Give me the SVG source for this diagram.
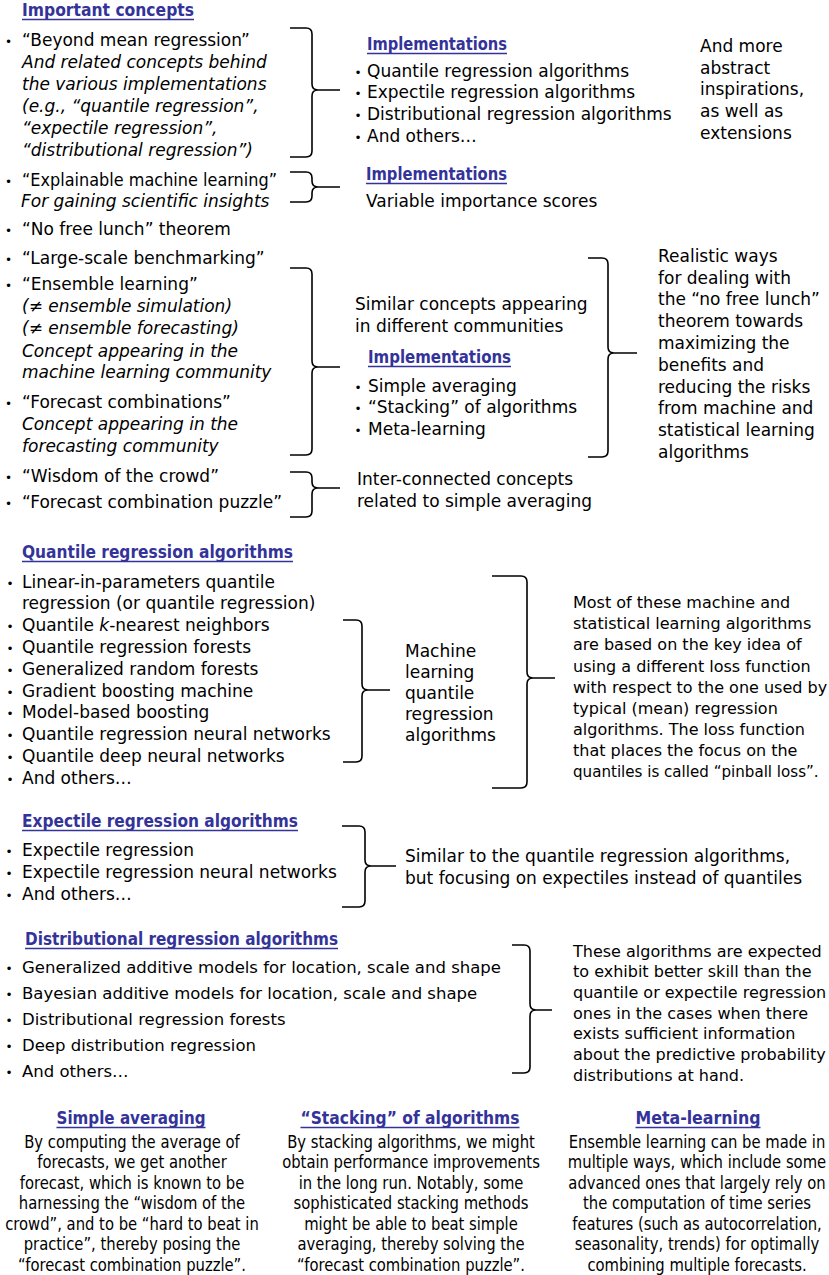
<svg xmlns="http://www.w3.org/2000/svg" width="829" height="1275" viewBox="0 0 829 1275">
<style>
text{font-family:"DejaVu Sans","Liberation Sans",sans-serif;font-size:17px;fill:#000}
.i{font-style:italic}
.b{font-size:12px}
.s16{font-size:16px}
.s15{font-size:15.1px}
.s165{font-size:16.5px}
.h{font-weight:bold;fill:#333399}
.u{stroke:#333399;stroke-width:1.3}
.br{fill:none;stroke:#000;stroke-width:1.6;stroke-linejoin:round}
.m{text-anchor:middle}
</style>
<rect width="829" height="1275" fill="#fff"/>

<g id="connectors">
<path class="br" d="M290,28 H306 Q312,28 312,34 V84 Q312,90 318,90 Q312,90 312,96 V151 Q312,157 306,157 H290 M318,90 H340"/>
<path class="br" d="M290,172 H306 Q312,172 312,178 V181 Q312,187 318,187 Q312,187 312,193 V196 Q312,202 306,202 H290 M318,187 H340"/>
<path class="br" d="M290,268 H306 Q312,268 312,274 V361 Q312,367 318,367 Q312,367 312,373 V449 Q312,455 306,455 H290 M318,367 H340"/>
<path class="br" d="M290,472 H306 Q312,472 312,478 V482 Q312,488 318,488 Q312,488 312,494 V511 Q312,517 306,517 H290 M318,488 H340"/>
<path class="br" d="M588,258 H602 Q608,258 608,264 V347 Q608,353 614,353 Q608,353 608,359 V451 Q608,457 602,457 H588 M614,353 H637"/>
<path class="br" d="M343,620 H356 Q362,620 362,626 V684 Q362,690 368,690 Q362,690 362,696 V756 Q362,762 356,762 H343 M368,690 H390"/>
<path class="br" d="M492,576 H521 Q527,576 527,582 V672 Q527,678 533,678 Q527,678 527,684 V782 Q527,788 521,788 H492 M533,678 H555"/>
<path class="br" d="M342,826 H359 Q365,826 365,832 V860 Q365,866 371,866 Q365,866 365,872 V901 Q365,907 359,907 H342 M371,866 H396"/>
<path class="br" d="M512,945 H524 Q530,945 530,951 V1004 Q530,1010 536,1010 Q530,1010 530,1016 V1067 Q530,1073 524,1073 H512 M536,1010 H552"/>
</g>

<g id="important-concepts-heading">
<text class="h" x="22" y="16" textLength="172" lengthAdjust="spacingAndGlyphs">Important concepts</text>
<line class="u" x1="22" y1="19.5" x2="194" y2="19.5"/>
</g>

<g id="beyond-mean">
<text y="46"><tspan class="b" x="5">•</tspan><tspan x="22">“Beyond mean regression”</tspan></text>
<text class="i" x="22" y="68">And related concepts behind</text>
<text class="i" x="22" y="90">the various implementations</text>
<text class="i" x="22" y="112">(e.g., “quantile regression”,</text>
<text class="i" x="22" y="134">“expectile regression”,</text>
<text class="i" x="22" y="156">“distributional regression”)</text>
</g>

<g id="explainable">
<text y="186"><tspan class="b" x="5">•</tspan><tspan x="22" textLength="255" lengthAdjust="spacingAndGlyphs">“Explainable machine learning”</tspan></text>
<text class="i" x="21" y="207">For gaining scientific insights</text>
</g>

<g id="no-free-lunch">
<text y="235"><tspan class="b" x="5">•</tspan><tspan x="22">“No free lunch” theorem</tspan></text>
</g>

<g id="benchmarking">
<text y="264"><tspan class="b" x="5">•</tspan><tspan x="22">“Large-scale benchmarking”</tspan></text>
</g>

<g id="ensemble-learning">
<text y="290"><tspan class="b" x="5">•</tspan><tspan x="22">“Ensemble learning”</tspan></text>
<text class="i" x="22" y="312">(≠ ensemble simulation)</text>
<text class="i" x="22" y="334">(≠ ensemble forecasting)</text>
<text class="i" x="22" y="357">Concept appearing in the</text>
<text class="i" x="22" y="378">machine learning community</text>
</g>

<g id="forecast-combinations">
<text y="408"><tspan class="b" x="5">•</tspan><tspan x="22">“Forecast combinations”</tspan></text>
<text class="i" x="22" y="430">Concept appearing in the</text>
<text class="i" x="22" y="452">forecasting community</text>
</g>

<g id="wisdom">
<text y="482"><tspan class="b" x="5">•</tspan><tspan x="22">“Wisdom of the crowd”</tspan></text>
<text y="508"><tspan class="b" x="5">•</tspan><tspan x="22">“Forecast combination puzzle”</tspan></text>
</g>

<g id="implementations-beyond">
<text class="h" x="367" y="50" textLength="140" lengthAdjust="spacingAndGlyphs">Implementations</text>
<line class="u" x1="367" y1="53.5" x2="507" y2="53.5"/>
<text y="77"><tspan class="b" x="354.5">•</tspan><tspan x="367">Quantile regression algorithms</tspan></text>
<text y="98"><tspan class="b" x="354.5">•</tspan><tspan x="367">Expectile regression algorithms</tspan></text>
<text y="120"><tspan class="b" x="354.5">•</tspan><tspan x="367">Distributional regression algorithms</tspan></text>
<text y="142"><tspan class="b" x="354.5">•</tspan><tspan x="367">And others…</tspan></text>
</g>

<g id="abstract-inspirations">
<text x="700" y="52">And more</text>
<text x="700" y="74">abstract</text>
<text x="700" y="95">inspirations,</text>
<text x="700" y="117">as well as</text>
<text x="700" y="139">extensions</text>
</g>

<g id="implementations-explainable">
<text class="h" x="366" y="180" textLength="141" lengthAdjust="spacingAndGlyphs">Implementations</text>
<line class="u" x1="366" y1="183.5" x2="507" y2="183.5"/>
<text x="366" y="207">Variable importance scores</text>
</g>

<g id="similar-concepts">
<text x="355" y="310">Similar concepts appearing</text>
<text x="355" y="332">in different communities</text>
</g>

<g id="implementations-ensemble">
<text class="h" x="368" y="363" textLength="143" lengthAdjust="spacingAndGlyphs">Implementations</text>
<line class="u" x1="368" y1="366.5" x2="511" y2="366.5"/>
<text y="392"><tspan class="b" x="354.5">•</tspan><tspan x="368">Simple averaging</tspan></text>
<text y="413"><tspan class="b" x="354.5">•</tspan><tspan x="368">“Stacking” of algorithms</tspan></text>
<text y="435"><tspan class="b" x="354.5">•</tspan><tspan x="368">Meta-learning</tspan></text>
</g>

<g id="realistic-ways">
<text x="658" y="262">Realistic ways</text>
<text x="658" y="284">for dealing with</text>
<text x="658" y="305">the “no free lunch”</text>
<text x="658" y="327">theorem towards</text>
<text x="658" y="349">maximizing the</text>
<text x="658" y="371">benefits and</text>
<text x="658" y="393">reducing the risks</text>
<text x="658" y="414">from machine and</text>
<text x="658" y="436">statistical learning</text>
<text x="658" y="458">algorithms</text>
</g>

<g id="inter-connected">
<text x="357" y="485">Inter-connected concepts</text>
<text x="357" y="507">related to simple averaging</text>
</g>

<g id="quantile-algorithms">
<text class="h" x="22" y="558" textLength="271" lengthAdjust="spacingAndGlyphs">Quantile regression algorithms</text>
<line class="u" x1="22" y1="561.5" x2="293" y2="561.5"/>
<text y="588"><tspan class="b" x="6.5">•</tspan><tspan x="22">Linear-in-parameters quantile</tspan></text>
<text x="22" y="609">regression (or quantile regression)</text>
<text y="631"><tspan class="b" x="6.5">•</tspan><tspan x="22">Quantile </tspan><tspan class="i">k</tspan><tspan>-nearest neighbors</tspan></text>
<text y="653"><tspan class="b" x="6.5">•</tspan><tspan x="22">Quantile regression forests</tspan></text>
<text y="675"><tspan class="b" x="6.5">•</tspan><tspan x="22">Generalized random forests</tspan></text>
<text y="697"><tspan class="b" x="6.5">•</tspan><tspan x="22">Gradient boosting machine</tspan></text>
<text y="718"><tspan class="b" x="6.5">•</tspan><tspan x="22">Model-based boosting</tspan></text>
<text y="740"><tspan class="b" x="6.5">•</tspan><tspan x="22">Quantile regression neural networks</tspan></text>
<text y="762"><tspan class="b" x="6.5">•</tspan><tspan x="22">Quantile deep neural networks</tspan></text>
<text y="784"><tspan class="b" x="6.5">•</tspan><tspan x="22">And others…</tspan></text>
</g>

<g id="ml-quantile">
<text x="405" y="657">Machine</text>
<text x="405" y="678">learning</text>
<text x="405" y="699">quantile</text>
<text x="405" y="720">regression</text>
<text x="405" y="741">algorithms</text>
</g>

<g id="pinball-note">
<text class="s16" x="573" y="608">Most of these machine and</text>
<text class="s16" x="573" y="629">statistical learning algorithms</text>
<text class="s16" x="573" y="650">are based on the key idea of</text>
<text class="s16" x="573" y="672">using a different loss function</text>
<text class="s16" x="573" y="693">with respect to the one used by</text>
<text class="s16" x="573" y="714">typical (mean) regression</text>
<text class="s16" x="573" y="735">algorithms. The loss function</text>
<text class="s16" x="573" y="756">that places the focus on the</text>
<text class="s15" x="573" y="777">quantiles is called “pinball loss”.</text>
</g>

<g id="expectile-algorithms">
<text class="h" x="22" y="827" textLength="276" lengthAdjust="spacingAndGlyphs">Expectile regression algorithms</text>
<line class="u" x1="22" y1="830.5" x2="298" y2="830.5"/>
<text y="856"><tspan class="b" x="5.5">•</tspan><tspan x="22">Expectile regression</tspan></text>
<text y="878"><tspan class="b" x="5.5">•</tspan><tspan x="22">Expectile regression neural networks</tspan></text>
<text y="900"><tspan class="b" x="5.5">•</tspan><tspan x="22">And others…</tspan></text>
</g>

<g id="expectile-note">
<text x="405" y="862">Similar to the quantile regression algorithms,</text>
<text x="405" y="884">but focusing on expectiles instead of quantiles</text>
</g>

<g id="distributional-algorithms">
<text class="h" x="25" y="945" textLength="313" lengthAdjust="spacingAndGlyphs">Distributional regression algorithms</text>
<line class="u" x1="25" y1="948.5" x2="338" y2="948.5"/>
<text class="s165" y="973"><tspan class="b" x="5.5">•</tspan><tspan x="22">Generalized additive models for location, scale and shape</tspan></text>
<text class="s165" y="999"><tspan class="b" x="5.5">•</tspan><tspan x="22">Bayesian additive models for location, scale and shape</tspan></text>
<text class="s165" y="1025"><tspan class="b" x="5.5">•</tspan><tspan x="22">Distributional regression forests</tspan></text>
<text class="s165" y="1051"><tspan class="b" x="5.5">•</tspan><tspan x="22">Deep distribution regression</tspan></text>
<text class="s165" y="1077"><tspan class="b" x="5.5">•</tspan><tspan x="22">And others…</tspan></text>
</g>

<g id="distributional-note">
<text class="s16" x="573" y="957">These algorithms are expected</text>
<text class="s16" x="573" y="977">to exhibit better skill than the</text>
<text class="s16" x="573" y="998">quantile or expectile regression</text>
<text class="s16" x="573" y="1019">ones in the cases when there</text>
<text class="s16" x="573" y="1039">exists sufficient information</text>
<text class="s16" x="573" y="1060">about the predictive probability</text>
<text class="s16" x="573" y="1081">distributions at hand.</text>
</g>

<g id="simple-averaging">
<text class="h m" x="131" y="1124" textLength="149" lengthAdjust="spacingAndGlyphs">Simple averaging</text>
<line class="u" x1="56.5" y1="1127.5" x2="205.5" y2="1127.5"/>
<g transform="translate(132 0) scale(0.87 1)">
<text class="m" x="0" y="1148">By computing the average of</text>
<text class="m" x="0" y="1168.5">forecasts, we get another</text>
<text class="m" x="0" y="1189">forecast, which is known to be</text>
<text class="m" x="0" y="1209.5">harnessing the “wisdom of the</text>
<text class="m" x="0" y="1230">crowd”, and to be “hard to beat in</text>
<text class="m" x="0" y="1250.5">practice”, thereby posing the</text>
<text class="m" x="0" y="1271">“forecast combination puzzle”.</text>
</g>
</g>

<g id="stacking">
<text class="h m" x="410" y="1124" textLength="219" lengthAdjust="spacingAndGlyphs">“Stacking” of algorithms</text>
<line class="u" x1="300.5" y1="1127.5" x2="519.5" y2="1127.5"/>
<g transform="translate(411 0) scale(0.87 1)">
<text class="m" x="0" y="1148">By stacking algorithms, we might</text>
<text class="m" x="0" y="1168.5">obtain performance improvements</text>
<text class="m" x="0" y="1189">in the long run. Notably, some</text>
<text class="m" x="0" y="1209.5">sophisticated stacking methods</text>
<text class="m" x="0" y="1230">might be able to beat simple</text>
<text class="m" x="0" y="1250.5">averaging, thereby solving the</text>
<text class="m" x="0" y="1271">“forecast combination puzzle”.</text>
</g>
</g>

<g id="meta-learning">
<text class="h m" x="698" y="1124" textLength="125" lengthAdjust="spacingAndGlyphs">Meta-learning</text>
<line class="u" x1="635.5" y1="1127.5" x2="760.5" y2="1127.5"/>
<g transform="translate(697 0) scale(0.87 1)">
<text class="m" x="0" y="1148">Ensemble learning can be made in</text>
<text class="m" x="0" y="1168.5">multiple ways, which include some</text>
<text class="m" x="0" y="1189">advanced ones that largely rely on</text>
<text class="m" x="0" y="1209.5">the computation of time series</text>
<text class="m" x="0" y="1230">features (such as autocorrelation,</text>
<text class="m" x="0" y="1250.5">seasonality, trends) for optimally</text>
<text class="m" x="0" y="1271">combining multiple forecasts.</text>
</g>
</g>
</svg>
